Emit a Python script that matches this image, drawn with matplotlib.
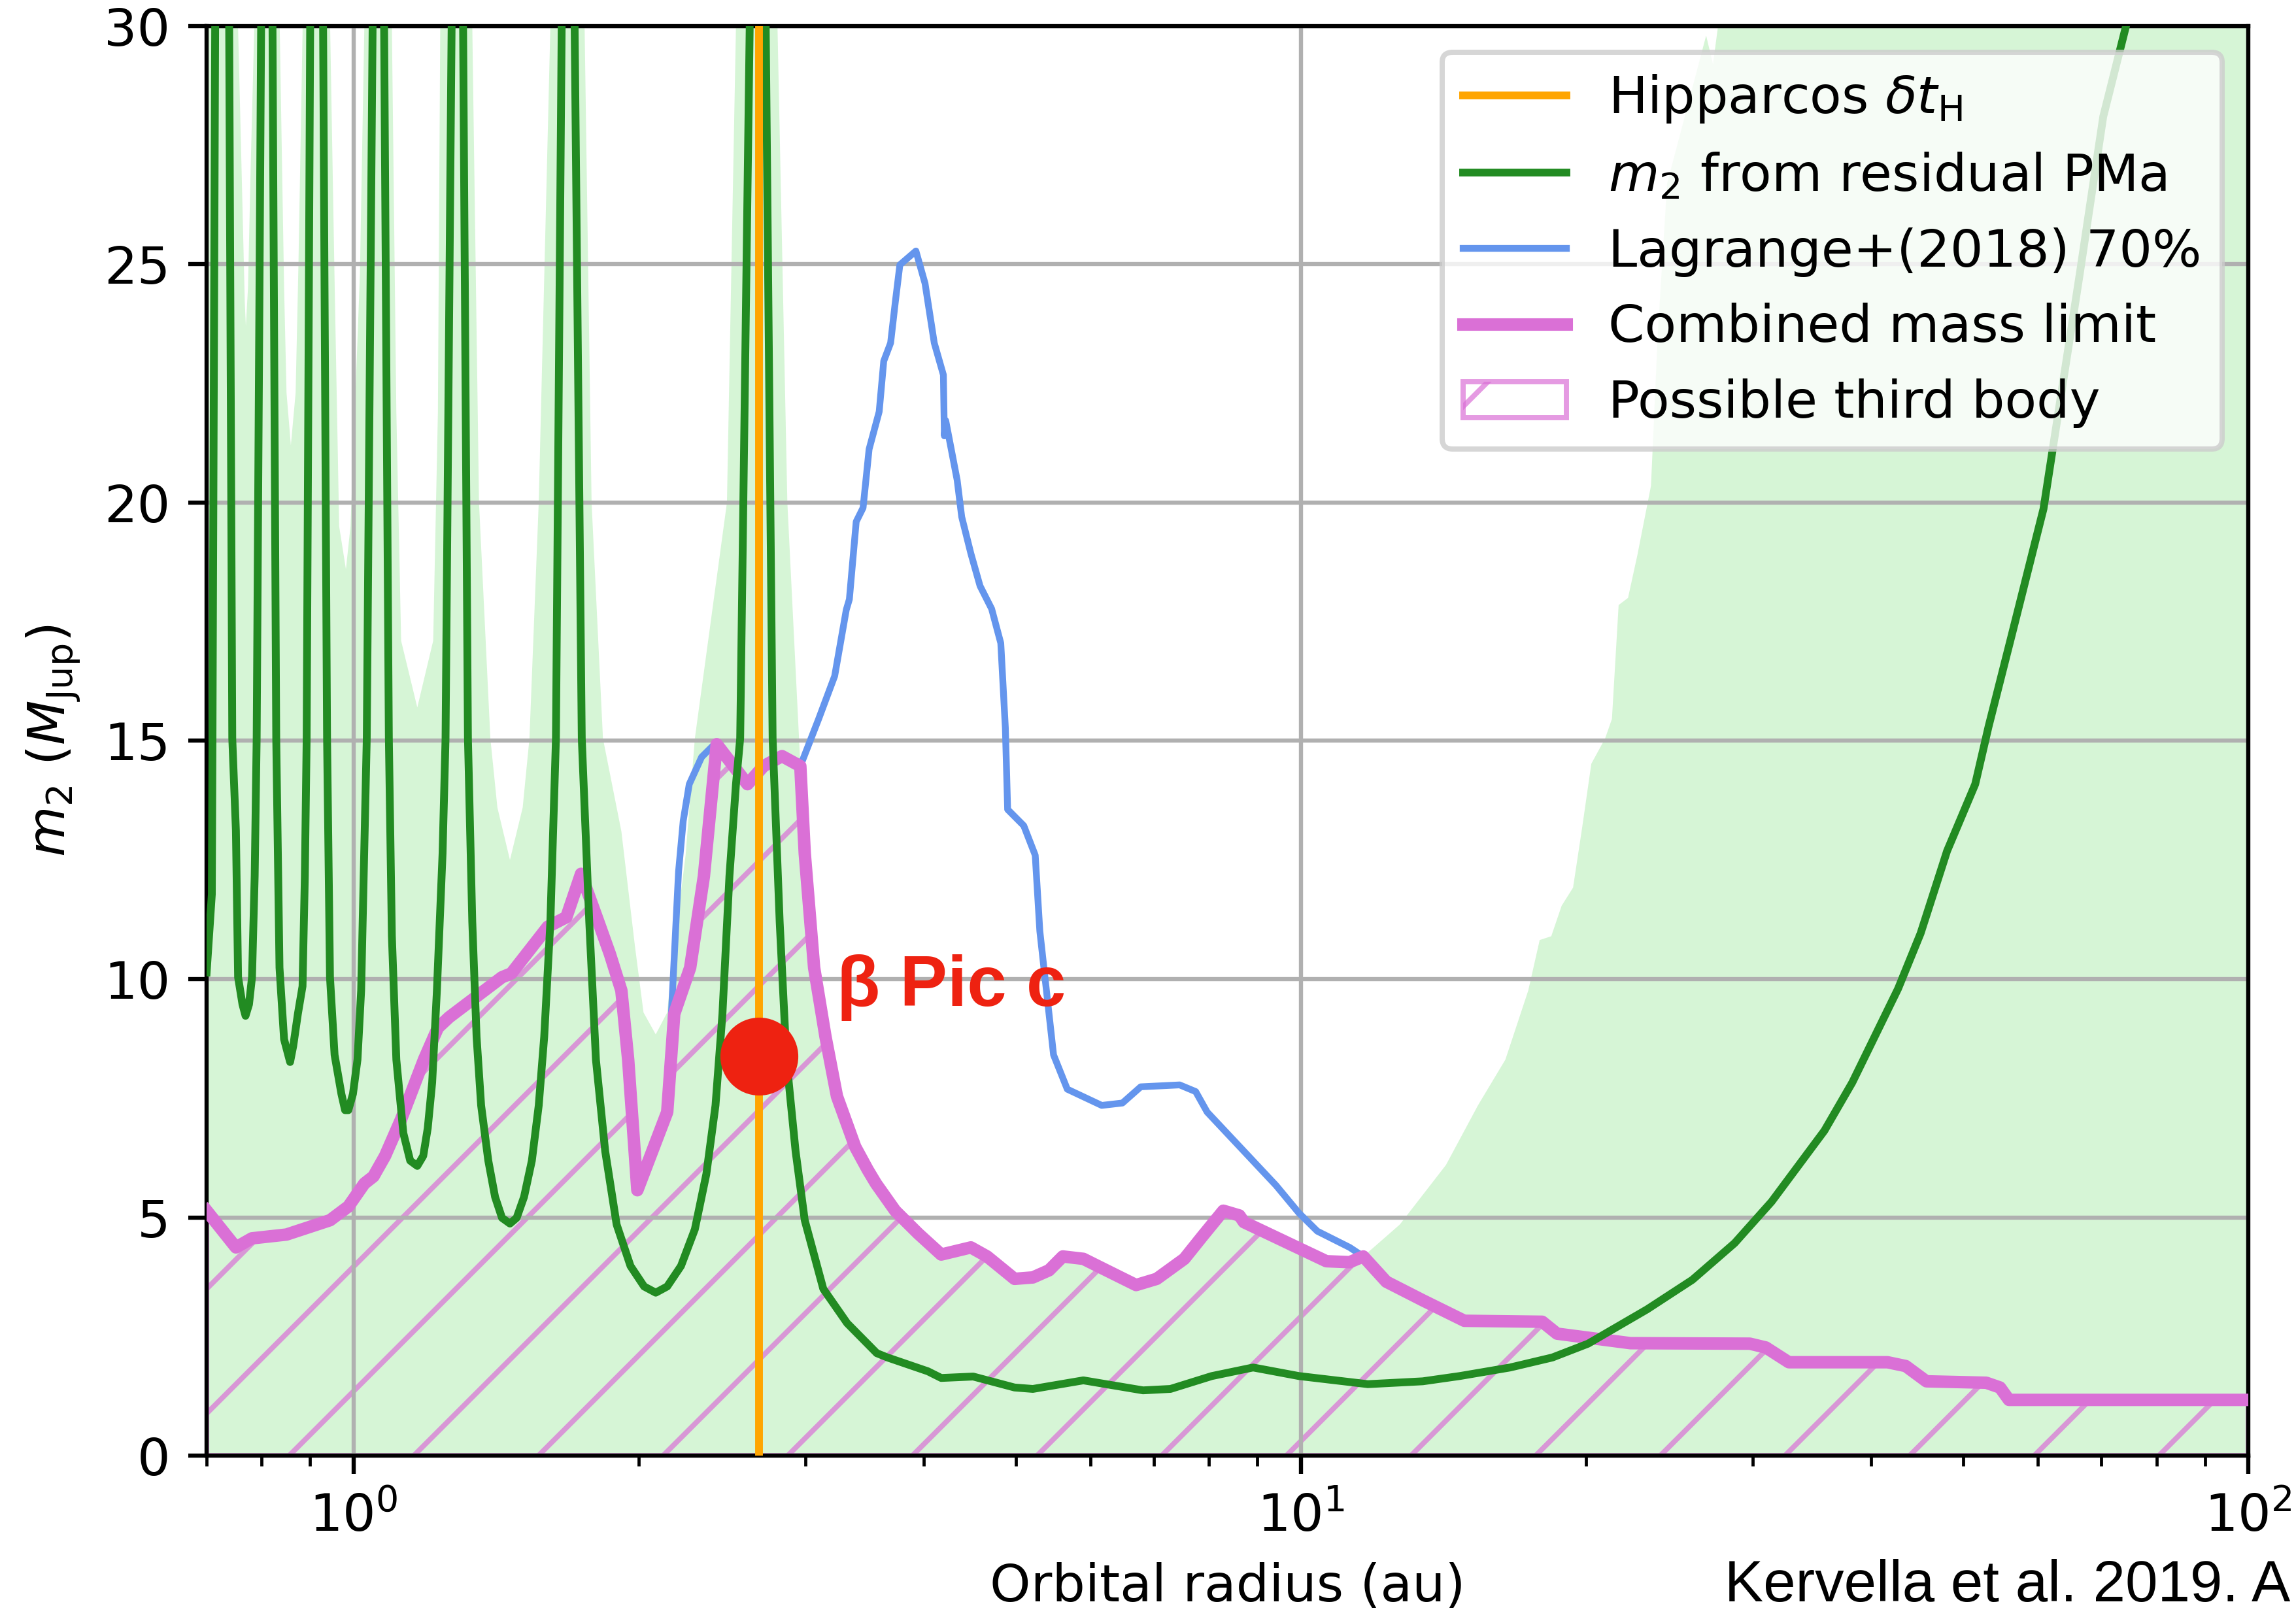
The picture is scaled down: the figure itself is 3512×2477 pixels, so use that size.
import matplotlib
matplotlib.use("Agg")
import matplotlib.pyplot as plt

# orbital radius (au) -> m2 (M_Jup)
# spikes of the PMa sensitivity curve go far above the plot range
pma_r = [0.700, 0.7089, 0.710, 0.7147, 0.727, 0.7394, 0.745, 0.7516, 0.7556, 0.7637,
         0.7694, 0.7759, 0.7816, 0.7867, 0.7905, 0.7991, 0.810, 0.8215, 0.829, 0.8356,
         0.8449, 0.8574, 0.864, 0.8738, 0.8837, 0.8887, 0.8926, 0.9004, 0.914, 0.929,
         0.938, 0.9447, 0.9553, 0.9713, 0.980, 0.9878, 0.9989, 1.010, 1.019, 1.033,
         1.0478, 1.062, 1.0775, 1.090, 1.098, 1.110, 1.129, 1.148, 1.168, 1.185,
         1.198, 1.211, 1.225, 1.242, 1.251, 1.2696, 1.287, 1.3055, 1.321, 1.335,
         1.349, 1.364, 1.388, 1.411, 1.435, 1.463, 1.487, 1.514, 1.543, 1.569,
         1.590, 1.614, 1.636, 1.659, 1.685, 1.712, 1.742, 1.774, 1.803, 1.844,
         1.896, 1.961, 2.027, 2.085, 2.144, 2.217, 2.293, 2.358, 2.411, 2.452,
         2.494, 2.534, 2.560, 2.620, 2.672, 2.724, 2.770, 2.818, 2.865, 2.929,
         2.995, 3.133, 3.32, 3.568, 3.662, 4.04, 4.173, 4.510, 4.987, 5.214,
         5.895, 6.815, 7.285, 8.054, 8.905, 9.956, 11.77, 13.45, 14.71, 16.63,
         18.43, 20.1, 23.2, 25.9, 28.7, 31.4, 35.7, 38.2, 42.7, 45.1,
         48.1, 51.5, 53.2, 56.2, 60.8, 66.4, 70.3, 74.3, 80.0]
pma_m2 = [10.14, 11.78, 15.05, 30, 80, 30, 15.05, 13.12, 10.04, 9.47,
          9.23, 9.47, 10.04, 12.16, 15.05, 30, 80, 30, 15.05, 10.24,
          8.74, 8.26, 8.6, 9.27, 9.85, 12.16, 15.05, 30, 80, 30,
          15.05, 10.04, 8.41, 7.59, 7.25, 7.25, 7.59, 8.31, 9.76, 15.05,
          30, 80, 30, 15.05, 10.91, 8.31, 6.77, 6.19, 6.08, 6.29,
          6.87, 7.83, 9.76, 12.64, 15.05, 30, 80, 30, 15.05, 11.2,
          8.79, 7.35, 6.19, 5.43, 4.99, 4.87, 4.99, 5.43, 6.19, 7.35,
          8.79, 11.2, 15.05, 30, 80, 30, 15.05, 11.2, 8.31, 6.39,
          4.85, 3.98, 3.55, 3.42, 3.55, 3.98, 4.75, 5.91, 7.35, 9.27,
          12.16, 14.09, 15.05, 30, 80, 30, 15.05, 11.2, 8.31, 6.39,
          4.94, 3.50, 2.78, 2.15, 2.06, 1.77, 1.63, 1.66, 1.43, 1.40,
          1.58, 1.37, 1.40, 1.67, 1.85, 1.67, 1.50, 1.56, 1.67, 1.85,
          2.06, 2.35, 3.07, 3.69, 4.46, 5.33, 6.82, 7.83, 9.80, 10.96,
          12.69, 14.09, 15.3, 17.17, 19.87, 24.8, 28.1, 30.0, 34.0]

# upper edge of the light green band
band_r = [0.700, 0.7555, 0.762, 0.768, 0.770, 0.774, 0.779, 0.786, 0.81, 0.836,
          0.845, 0.850, 0.859, 0.869, 0.875, 0.884, 0.915, 0.945, 0.955, 0.966,
          0.982, 0.993, 1.016, 1.027, 1.06, 1.098, 1.110, 1.123, 1.168, 1.214,
          1.228, 1.235, 1.29, 1.335, 1.357, 1.395, 1.419, 1.463, 1.509, 1.534,
          1.569, 1.614, 1.68, 1.754, 1.784, 1.834, 1.918, 1.982, 2.024, 2.085,
          2.144, 2.166, 2.242, 2.293, 2.479, 2.534, 2.67, 2.803, 2.871, 2.963,
          3.064, 3.150, 3.239, 3.386, 3.561, 3.786, 3.946, 4.173, 4.485, 4.665,
          4.987, 5.214, 5.423, 5.607, 5.895, 6.233, 6.701, 7.045, 7.534, 7.877,
          8.283, 8.613, 8.709, 10.64, 11.26, 11.64, 12.72, 14.23, 15.38, 16.44,
          17.38, 17.87, 18.38, 18.85, 19.38, 19.82, 20.26, 20.95, 21.3, 21.65,
          22.15, 22.66, 23.42, 23.82, 24.36, 26.78, 27.23, 27.78, 100.0]
band_m2 = [40, 30, 27, 24.2, 23.7, 24.5, 27, 30, 40, 30,
           24.5, 22.3, 21.2, 22.3, 25, 30, 40, 30, 24.8, 19.5,
           18.6, 19.5, 24.8, 30, 40, 30, 21.9, 17.1, 15.7, 17.1,
           21.9, 30, 40, 30, 20.0, 15.05, 13.6, 12.5, 13.6, 15.05,
           20.0, 30, 40, 30, 20.0, 15.05, 13.1, 10.7, 9.3, 8.84,
           9.3, 10.2, 12.6, 15.05, 20.0, 30, 40, 30, 20.0, 14.5,
           10.24, 8.79, 7.54, 6.48, 5.71, 5.04, 4.66, 4.22, 4.37, 4.18,
           3.71, 3.74, 3.89, 4.18, 4.13, 3.89, 3.58, 3.71, 4.13, 4.61,
           5.14, 5.04, 4.90, 4.08, 4.06, 4.18, 4.85, 6.10, 7.35, 8.31,
           9.76, 10.82, 10.9, 11.54, 11.92, 13.2, 14.52, 15.05, 15.46, 17.85,
           18.0, 18.9, 20.35, 23.6, 26.7, 29.8, 29.2, 30.5, 40]

# Lagrange+ (2018) 70% detection limit
lag_r = [2.165, 2.204, 2.229, 2.262, 2.331, 2.397, 2.418, 2.606, 2.710, 2.834,
         2.963, 3.098, 3.221, 3.313, 3.338, 3.394, 3.451, 3.502, 3.589, 3.629,
         3.690, 3.733, 3.774, 3.924, 4.012, 4.103, 4.195, 4.205, 4.219, 4.338,
         4.386, 4.485, 4.586, 4.717, 4.823, 4.877, 4.904, 5.100, 5.244, 5.303,
         5.483, 5.669, 6.164, 6.482, 6.777, 7.449, 7.745, 7.964, 8.613, 9.416,
         9.956, 10.41, 11.26, 11.64]
lag_m2 = [9.2, 12.26, 13.32, 14.09, 14.66, 14.90, 14.93, 14.09, 14.47, 14.68,
          14.47, 15.46, 16.36, 17.75, 17.97, 19.6, 19.89, 21.12, 21.91, 22.97,
          23.35, 24.22, 24.99, 25.28, 24.6, 23.35, 22.68, 21.4, 21.72, 20.47,
          19.7, 18.93, 18.25, 17.77, 17.05, 15.27, 13.56, 13.22, 12.6, 11.01,
          8.41, 7.69, 7.35, 7.40, 7.74, 7.78, 7.64, 7.21, 6.49, 5.67,
          5.09, 4.71, 4.37, 4.18]

# combined mass limit
comb_r = [0.700, 0.7516, 0.7813, 0.850, 0.9447, 0.988, 1.027, 1.050, 1.080, 1.123,
          1.187, 1.228, 1.262, 1.435, 1.468, 1.604, 1.678, 1.739, 1.814, 1.865,
          1.918, 1.950, 1.994, 2.144, 2.181, 2.267, 2.344, 2.418, 2.606, 2.710,
          2.834, 2.963, 2.995, 3.064, 3.150, 3.239, 3.386, 3.490, 3.561, 3.731,
          3.946, 4.173, 4.485, 4.665, 4.987, 5.214, 5.423, 5.607, 5.895, 6.233,
          6.701, 7.045, 7.534, 7.877, 8.283, 8.613, 8.709, 10.64, 11.26, 11.64,
          12.31, 13.45, 14.88, 17.98, 18.64, 22.28, 29.78, 30.96, 32.74, 41.62,
          43.5, 45.74, 52.9, 54.7, 55.9, 100.0]
comb_m2 = [5.14, 4.37, 4.56, 4.64, 4.94, 5.23, 5.71, 5.86, 6.29, 7.06,
           8.31, 8.98, 9.20, 10.04, 10.12, 11.10, 11.30, 12.21, 11.20, 10.53,
           9.76, 8.31, 5.57, 7.21, 9.27, 10.24, 12.16, 14.93, 14.09, 14.47,
           14.68, 14.47, 12.64, 10.24, 8.79, 7.54, 6.48, 6.00, 5.71, 5.14,
           4.66, 4.22, 4.37, 4.18, 3.71, 3.74, 3.89, 4.18, 4.13, 3.89,
           3.58, 3.71, 4.13, 4.61, 5.14, 5.04, 4.90, 4.08, 4.06, 4.18,
           3.65, 3.26, 2.83, 2.81, 2.56, 2.36, 2.35, 2.27, 1.96, 1.96,
           1.88, 1.56, 1.53, 1.43, 1.17, 1.17]

hip_dt_r = 2.68
bpic_c_r = 2.68
bpic_c_m2 = 8.38

red = "#ee2211"

fig = plt.figure(figsize=(3512 / 572, 2477 / 572), dpi=572)
ax = fig.add_axes([0.0900, 0.1009, 0.8892, 0.8830])
ax.set_xscale("log")

ax.fill_between(band_r, 0, band_m2, color="#d6f5d6", lw=0, zorder=0.5)
hatch = ax.fill_between(comb_r, 0, comb_m2, facecolor="none", edgecolor="orchid",
                        hatch="/", alpha=0.7, lw=1.0, zorder=1,
                        label="Possible third body")

l_lag, = ax.plot(lag_r, lag_m2, color="cornflowerblue", lw=1.3, zorder=2,
                 label="Lagrange+(2018) 70%")
l_comb, = ax.plot(comb_r, comb_m2, color="orchid", lw=2.4, zorder=3,
                  label="Combined mass limit")
l_pma, = ax.plot(pma_r, pma_m2, color="forestgreen", lw=1.5, zorder=4,
                 label=r"$m_2$ from residual PMa")
l_hip = ax.axvline(hip_dt_r, color="orange", lw=1.5, zorder=5,
                   label=r"Hipparcos $\delta t_\mathrm{H}$")

ax.plot(bpic_c_r, bpic_c_m2, "o", color=red, ms=14, zorder=6)
ax.text(3.24, 9.44, "β Pic c", color=red, fontsize=13.7, fontweight="bold",
        family=["Liberation Sans", "DejaVu Sans"], ha="left", va="baseline")

ax.set_xlim(0.7, 100)
ax.set_ylim(0, 30)
ax.grid(True, which="major")
ax.set_xlabel("Orbital radius (au)")
ax.set_ylabel(r"$m_2\ (M_\mathrm{Jup})$")

ax.legend(handles=[l_hip, l_pma, l_lag, l_comb, hatch], loc="upper right")

fig.text(0.9975, 0.011, "Kervella et al. 2019. A", fontsize=11.2,
         family=["Liberation Sans", "DejaVu Sans"], ha="right", va="baseline")

fig.savefig("out.png", dpi=572)
